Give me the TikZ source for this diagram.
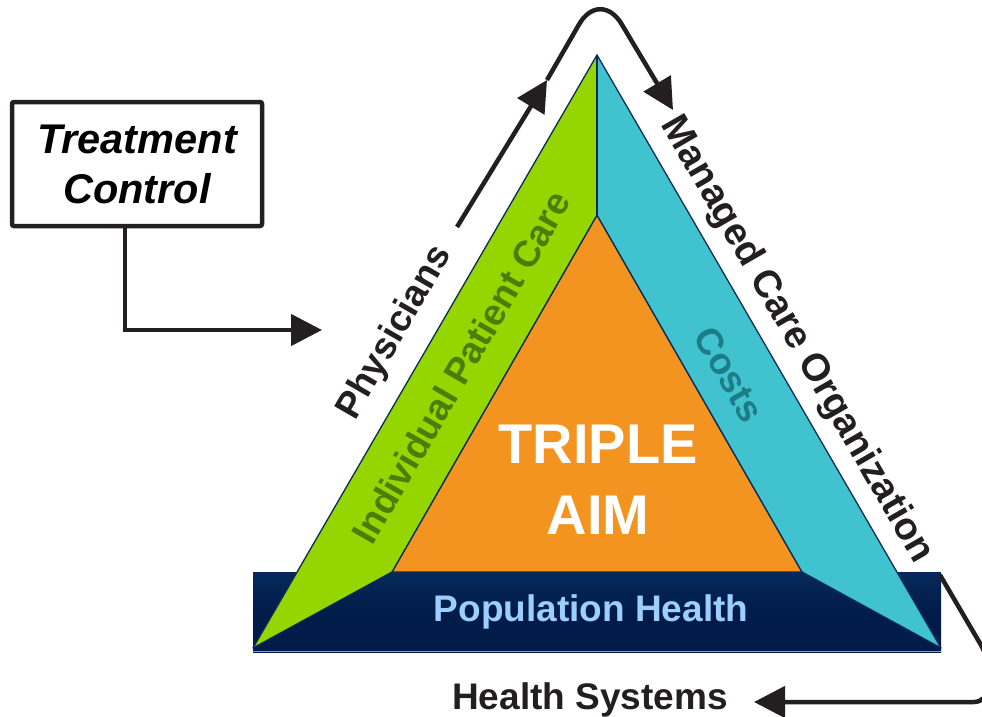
\documentclass[tikz,border=0pt]{standalone}
\usepackage{fontspec}
\setmainfont{Liberation Sans}
\usetikzlibrary{arrows.meta}

\definecolor{aimgreen}{HTML}{95D500}
\definecolor{aimcyan}{HTML}{40C2CF}
\definecolor{aimorange}{HTML}{F39320}
\definecolor{barnavytop}{HTML}{06295C}
\definecolor{barnavybot}{HTML}{011C48}
\definecolor{edgenavy}{HTML}{0A2B5A}
\definecolor{goldline}{HTML}{C8913A}
\definecolor{popblue}{HTML}{9CCFFF}
\definecolor{darkgreen}{HTML}{4B7D08}
\definecolor{darkteal}{HTML}{1E7C86}
\definecolor{ink}{HTML}{231F20}

\tikzset{
  facet/.style={draw=edgenavy, line width=1.3pt, line join=round},
  label/.style={font=\fontsize{37}{40}\selectfont\bfseries, inner sep=0pt,
                text height=26.6pt, text depth=0pt},
  biglabel/.style={font=\fontsize{56}{60}\selectfont\bfseries, inner sep=0pt,
                text height=40.3pt, text depth=0pt},
  flow/.style={draw=ink, line width=4.5pt},
  tip/.style={-{Triangle[length=31pt,width=31pt]}},
}

\begin{document}
\begin{tikzpicture}[x=1pt,y=-1pt]
\useasboundingbox (0,0) rectangle (982,717);

% triangle corners
\coordinate (apex) at (597,55);
\coordinate (bl) at (253,648);
\coordinate (br) at (941,648);
\coordinate (iapex) at (597,215);
\coordinate (ibl) at (392,572);
\coordinate (ibr) at (802,572);

% base bar
\shade[top color=barnavytop, bottom color=barnavybot, middle color=barnavybot]
  (253,572) rectangle (941,652);
\draw[goldline, line width=1.2pt] (253,651.4) -- (941,651.4);

% facets of the pyramid
\filldraw[facet, fill=aimorange] (iapex) -- (ibl) -- (ibr) -- cycle;
\filldraw[facet, fill=aimgreen] (apex) -- (bl) -- (ibl) -- (iapex) -- cycle;
\filldraw[facet, fill=aimcyan] (apex) -- (br) -- (ibr) -- (iapex) -- cycle;
\draw[edgenavy, line width=2pt] (apex) -- (iapex);

% texts on the pyramid
\node[biglabel, white] (triple) at (598,443) {TRIPLE};
\node[biglabel, white] (aim) at (598,514) {AIM};
\node[label, popblue] (pop) at (591,608) {Population Health};
\node[label, darkgreen, rotate=60] (ipc) at (461,367) {Individual Patient Care};
\node[label, darkteal, rotate=-60] (costs) at (730,374) {Costs};

% stakeholders
\node[label, ink, rotate=60] (phys) at (392,331) {Physicians};
\node[label, ink, rotate=-60, font=\fontsize{38.5}{40}\selectfont\bfseries,
      text height=27.6pt] (mco) at (800,338) {Managed Care Organization};
\node[label, ink] (hs) at (590,696) {Health Systems};

% treatment control box
\node[draw=ink, line width=4.5pt, rounded corners=2pt, minimum width=250pt,
      minimum height=124pt, inner sep=0pt, align=center,
      font=\fontsize{41.5}{50}\selectfont\bfseries\itshape] (tc) at (137,164)
  {Treatment\\Control};

% connectors
\coordinate (tcArrow) at (322,330);
\draw[flow, tip] ([xshift=-12pt]tc.south) |- (tcArrow);

\coordinate (physStart) at (457,227);
\coordinate (physTip) at (547,80);
\coordinate (peak) at (600,-12);
\coordinate (mcoTip) at (673,110);
\draw[flow, tip] (physStart) -- (physTip);
\draw[flow, tip, rounded corners=42pt] (physTip) -- (peak) -- (mcoTip);

\coordinate (hsStart) at (940,575);
\coordinate (hsBend) at (988,657);
\coordinate (hsCorner) at (988,702);
\coordinate (hsTip) at (754,702);
\draw[flow, tip, rounded corners=14pt] (hsStart) -- (hsBend) -- (hsCorner) -- (hsTip);
\end{tikzpicture}
\end{document}
